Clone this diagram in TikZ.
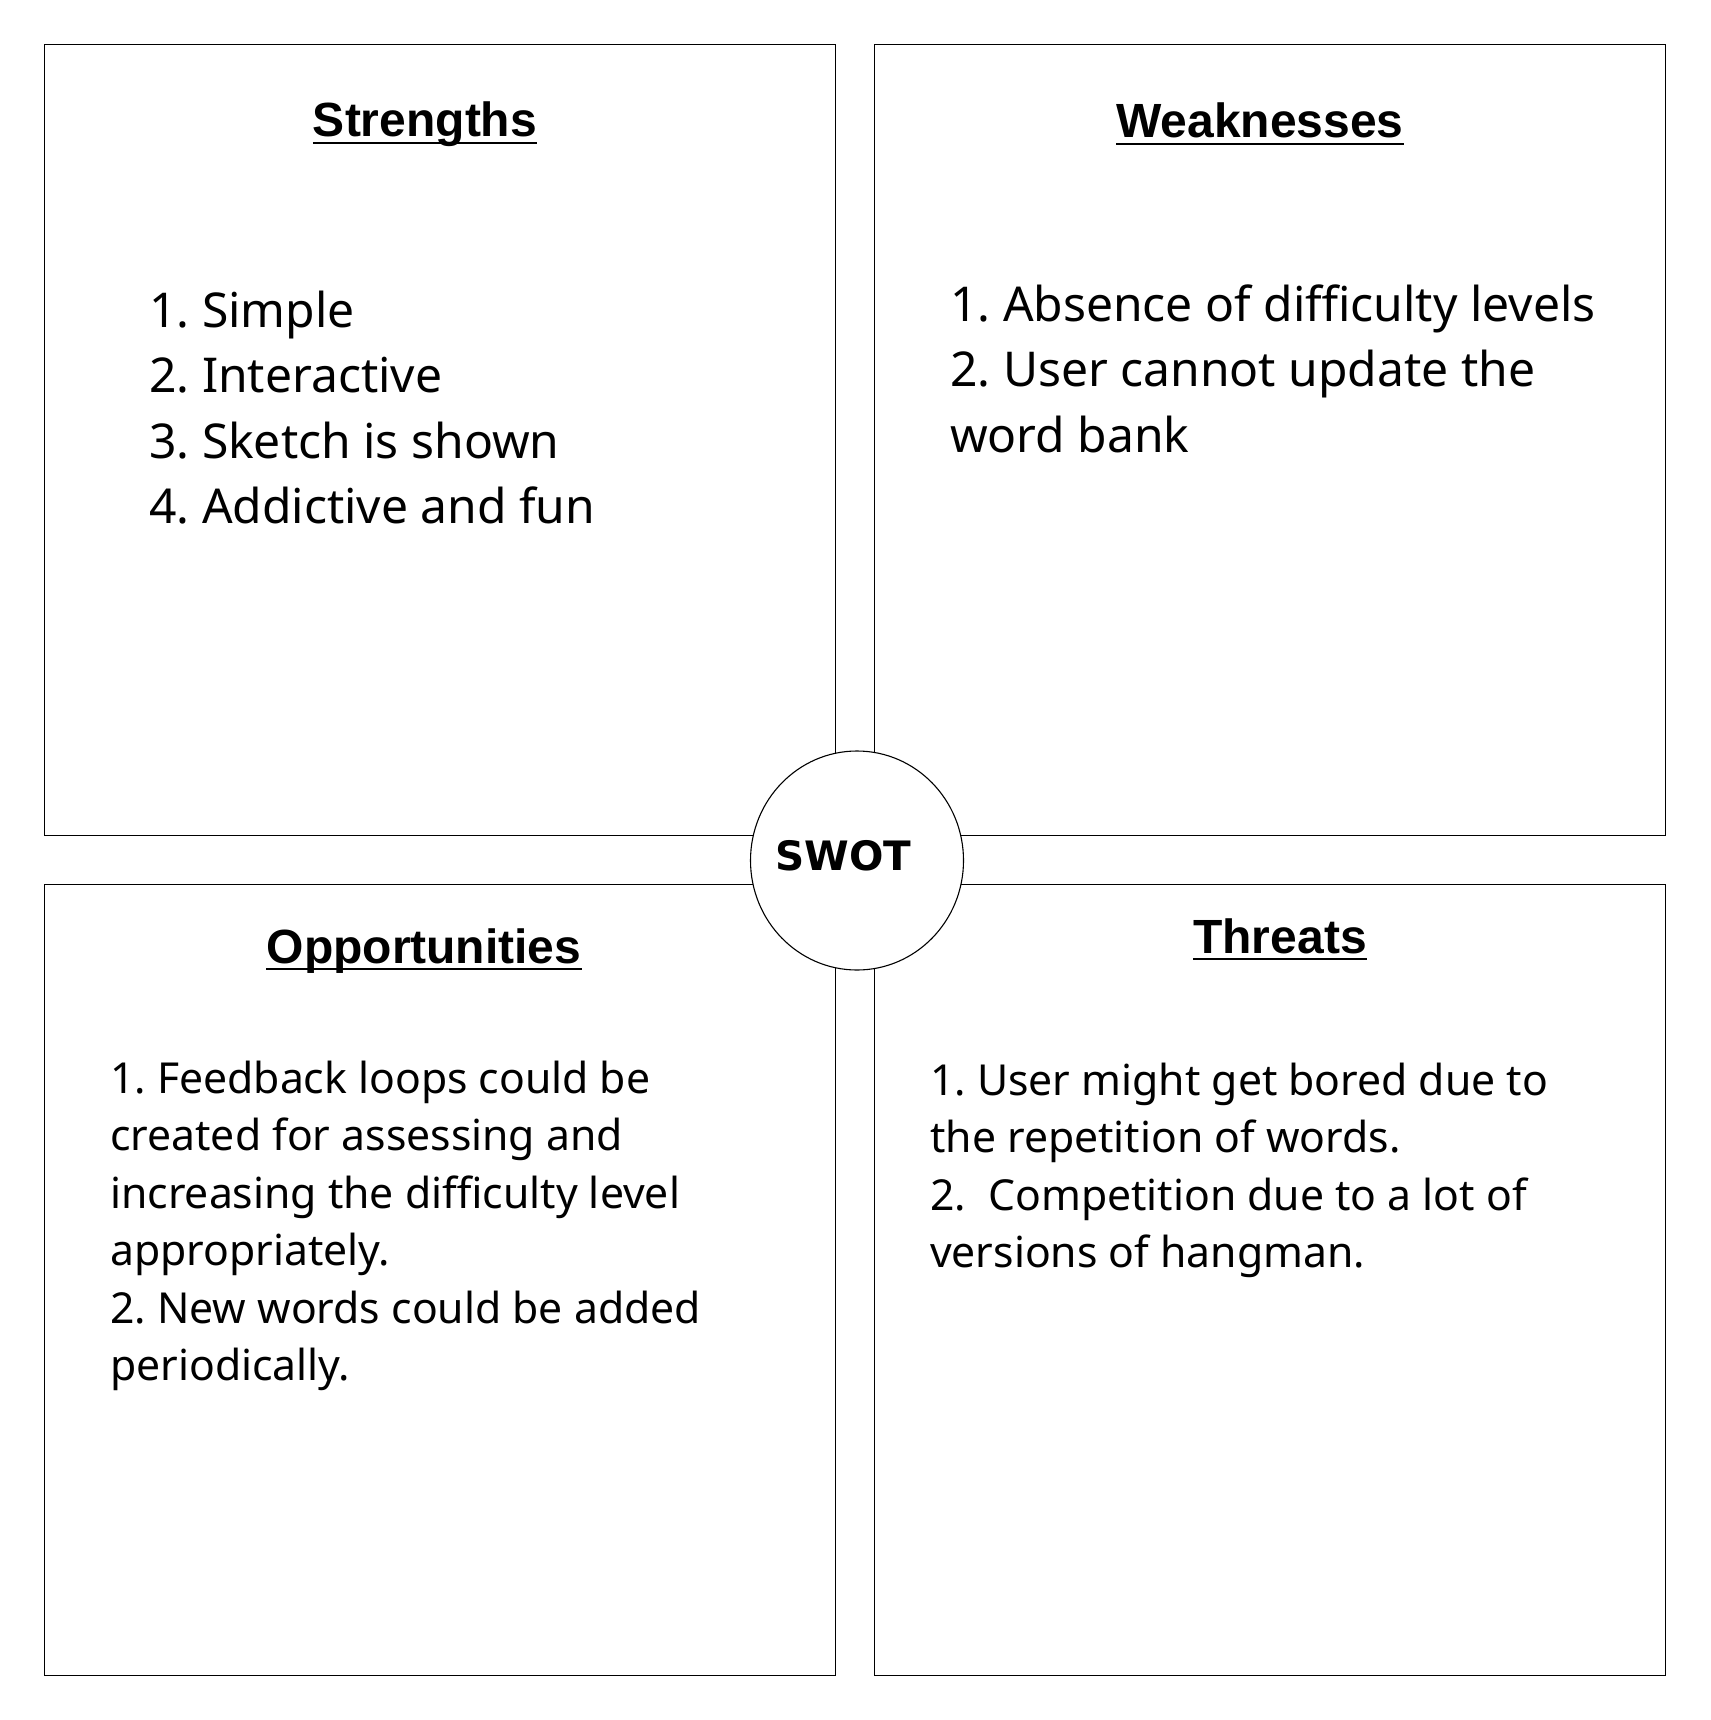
\documentclass[tikz,border=0pt]{standalone}
\usepackage{fontspec}
\setmainfont{Noto Sans}
\newfontfamily\headfont{Liberation Sans}
\newfontfamily\swotfont{DejaVu Sans}
\usetikzlibrary{shapes.geometric}
\frenchspacing
\tikzset{
  quad/.style={draw=black, line width=1.4pt, fill=white, rectangle, inner sep=0pt,
               minimum width=791pt, minimum height=791pt, anchor=north west},
  hub/.style={draw=black, line width=1.1pt, fill=white, ellipse, inner sep=0pt,
              minimum width=213pt, minimum height=219pt},
  head/.style={font=\headfont\bfseries\fontsize{48}{55}\selectfont, anchor=base, inner sep=0pt},
  uline/.style={line width=2.2pt},
  bigitems/.style={font=\fontsize{48}{65.5}\selectfont, anchor=base west, inner sep=0pt},
  smallitems/.style={font=\fontsize{42.7}{57.5}\selectfont, anchor=base west, inner sep=0pt},
}
\newcommand{\itemlist}[2]{\parbox[t]{#1}{\raggedright #2}}
\begin{document}
\begin{tikzpicture}[x=1pt, y=-1pt]
  \useasboundingbox[fill=white] (0,0) rectangle (1710,1720);

  % four quadrants
  \node[quad] (S) at (44,44) {};
  \node[quad] (W) at (874,44) {};
  \node[quad] (O) at (44,884) {};
  \node[quad] (T) at (874,884) {};

  % centre circle
  \node[hub] (hub) at (857,860.5) {};
  \node[font=\swotfont\bfseries\fontsize{40.5}{46}\selectfont, anchor=base, inner sep=0pt]
    (swot) at (843.5,870) {SWOT};

  % headings
  \node[head] (hS) at (425,137) {Strengths};
  \node[head] (hW) at (1260,138) {Weaknesses};
  \node[head] (hO) at (424,963) {Opportunities};
  \node[head] (hT) at (1280,953) {Threats};
  \foreach \h in {hS,hW,hO,hT}
    \draw[uline] ([yshift=-6pt]\h.base west) -- ([yshift=-6pt]\h.base east);

  % item lists
  \node[bigitems] (lS) at (149,327) {\itemlist{660pt}{1. Simple\\2. Interactive\\3. Sketch is shown\\4. Addictive and fun}};
  \node[bigitems] (lW) at (950,321) {\itemlist{720pt}{1. Absence of difficulty levels\\2. User cannot update the\\word bank}};
  \node[smallitems] (lO) at (110,1093) {\itemlist{720pt}{1. Feedback loops could be\\created for assessing and\\increasing the difficulty level\\appropriately.\\2. New words could be added\\periodically.}};
  \node[smallitems] (lT) at (930,1095) {\itemlist{720pt}{1. User might get bored due to\\the repetition of words.\\2.\ \ Competition due to a lot of\\versions of hangman.}};
\end{tikzpicture}
\end{document}
